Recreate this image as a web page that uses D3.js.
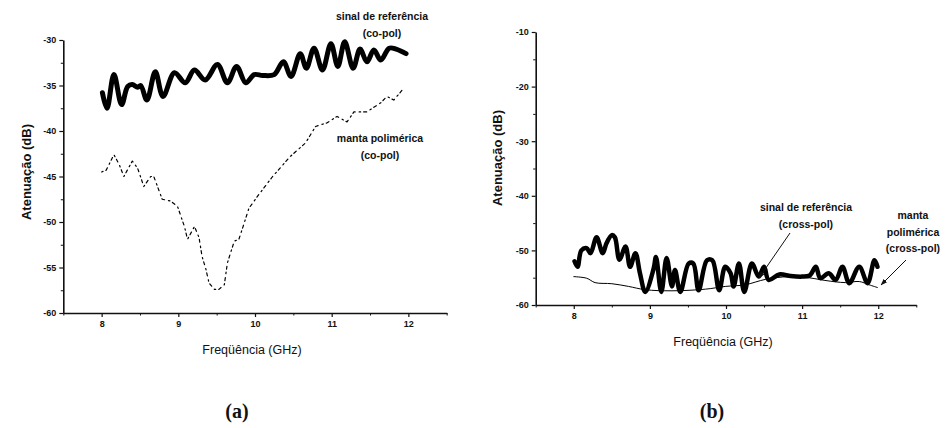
<!DOCTYPE html>
<html>
<head>
<meta charset="utf-8">
<script src="https://cdn.jsdelivr.net/npm/d3@7"></script>
<style>
  body { margin: 0; background: #fff; }
  svg { display: block; }
  text { font-family: "Liberation Sans", Arial, sans-serif; fill: #111; }
  text.letter { font-family: "Liberation Serif", "Times New Roman", serif; }
</style>
</head>
<body>
<svg id="chart" width="946" height="428"></svg>
<script>
// ---------- DATA ----------
const xTicks = [8, 9, 10, 11, 12];
const yTicksA = [-60, -55, -50, -45, -40, -35, -30];
const yTicksB = [-60, -50, -40, -30, -20, -10];

// (a) reference signal, co-pol  [GHz, dB]
const refCoX = [8.01,8.07,8.16,8.26,8.34,8.40,8.47,8.51,8.59,8.70,8.80,8.95,9.09,9.21,9.35,9.51,9.64,9.76,9.88,9.99,10.10,10.25,10.37,10.47,10.59,10.67,10.77,10.88,10.99,11.08,11.17,11.28,11.37,11.46,11.55,11.64,11.75,11.84,11.97];
const refCoY = [-35.8,-37.5,-33.8,-37.1,-35.1,-34.9,-35.2,-35.0,-36.6,-33.5,-36.2,-33.6,-34.7,-33.3,-34.4,-32.7,-34.7,-32.9,-34.7,-33.8,-33.9,-33.8,-32.4,-34.0,-31.5,-33.1,-30.9,-33.3,-30.4,-32.9,-30.2,-33.1,-31.0,-32.4,-31.1,-32.2,-30.9,-31.0,-31.5];

// (a) polymeric blanket, co-pol
const mantaCoX = [8.00,8.06,8.16,8.23,8.29,8.40,8.47,8.55,8.64,8.68,8.79,8.90,8.99,9.08,9.12,9.21,9.27,9.31,9.36,9.40,9.47,9.53,9.60,9.64,9.73,9.79,9.86,9.92,10.03,10.23,10.46,10.66,10.79,10.94,11.07,11.20,11.29,11.46,11.64,11.72,11.81,11.94];
const mantaCoY = [-44.5,-44.3,-42.6,-43.7,-45.0,-43.3,-44.1,-46.1,-45.0,-45.0,-47.5,-47.7,-48.3,-50.5,-51.9,-50.5,-51.7,-53.8,-55.2,-56.7,-57.4,-57.4,-56.9,-54.5,-52.1,-51.9,-50.1,-48.5,-47.2,-45.0,-42.8,-41.3,-39.5,-39.1,-38.4,-39.0,-37.9,-37.9,-36.9,-36.2,-36.6,-35.3];

// (b) reference signal, cross-pol
const refCrX = [8.01,8.05,8.10,8.17,8.22,8.30,8.38,8.43,8.50,8.54,8.60,8.68,8.74,8.81,8.87,8.94,9.05,9.08,9.15,9.22,9.29,9.33,9.40,9.51,9.57,9.64,9.75,9.82,9.91,9.99,10.06,10.10,10.17,10.24,10.34,10.43,10.50,10.56,10.70,10.85,11.00,11.10,11.18,11.24,11.35,11.44,11.53,11.62,11.75,11.86,11.95,11.99];
const refCrY = [-52.0,-53.0,-50.0,-49.6,-50.5,-47.6,-50.5,-48.7,-47.2,-47.6,-51.7,-49.3,-53.0,-50.5,-54.2,-57.6,-53.3,-51.2,-57.6,-51.4,-56.6,-53.6,-57.6,-52.4,-52.4,-57.3,-51.8,-51.8,-57.3,-53.0,-54.2,-56.6,-52.4,-57.6,-52.4,-54.8,-53.0,-55.4,-54.4,-54.7,-54.8,-54.6,-53.0,-55.1,-54.2,-55.4,-53.0,-56.0,-53.0,-56.0,-51.8,-53.0];

// (b) polymeric blanket, cross-pol
const mantaCrX = [8.00,8.17,8.28,8.50,8.72,8.94,9.29,9.73,9.99,10.25,10.52,10.82,11.04,11.30,11.57,11.75,11.88,11.99];
const mantaCrY = [-54.8,-55.1,-55.9,-56.1,-56.6,-57.2,-57.4,-57.1,-56.6,-56.3,-55.3,-54.8,-54.9,-55.5,-55.9,-55.7,-56.3,-56.8];

// ---------- DRAW ----------
const svg = d3.select("#chart");
const zip = (xs, ys) => xs.map((x, i) => [x, ys[i]]);

function panel(cfg) {
  const x = d3.scaleLinear().domain([7.5, 12.5]).range([cfg.x0, cfg.x1]);
  const y = d3.scaleLinear().domain(cfg.yDomain).range([cfg.y0, cfg.y1]);
  const g = svg.append("g");

  // minor ticks
  const minorX = d3.range(7.5, 12.51, 0.5).filter(v => !xTicks.includes(v));
  g.append("g").attr("transform", `translate(0,${cfg.y0})`)
    .call(d3.axisBottom(x).tickValues(minorX).tickSize(2.5).tickFormat(""))
    .call(a => a.select(".domain").remove());
  const minorY = d3.range(cfg.yDomain[0], cfg.yDomain[1] + 0.01, cfg.yStep / 2).filter(v => !cfg.yTicks.includes(v));
  g.append("g").attr("transform", `translate(${cfg.x0},0)`)
    .call(d3.axisLeft(y).tickValues(minorY).tickSize(2.5).tickFormat(""))
    .call(a => a.select(".domain").remove());

  const xa = g.append("g").attr("transform", `translate(0,${cfg.y0})`)
    .call(d3.axisBottom(x).tickValues(xTicks).tickSize(4).tickPadding(4).tickSizeOuter(0).tickFormat(d => String(d)));
  const ya = g.append("g").attr("transform", `translate(${cfg.x0},0)`)
    .call(d3.axisLeft(y).tickValues(cfg.yTicks).tickSize(4).tickPadding(3).tickSizeOuter(0).tickFormat(d => String(d)));
  [xa, ya].forEach(a => {
    a.select(".domain").attr("stroke", "#111").attr("stroke-width", 1.6);
    a.selectAll(".tick line").attr("stroke", "#111").attr("stroke-width", 1.2);
    a.selectAll("text").attr("font-size", 9).attr("font-weight", "bold").attr("fill", "#111");
  });
  g.selectAll(".tick line").attr("stroke", "#111");

  // axis titles
  g.append("text").attr("x", (cfg.x0 + cfg.x1) / 2 - 3).attr("y", cfg.y0 + 41)
    .attr("text-anchor", "middle").attr("font-size", 12.5).text("Freqüência (GHz)");
  g.append("text").attr("transform", `translate(${cfg.yLabelX},${cfg.yLabelY}) rotate(-90)`)
    .attr("text-anchor", "middle").attr("font-size", 13).attr("font-weight", "bold").text("Atenuação (dB)");

  return { g, x, y };
}

// Panel (a)
const A = panel({ x0: 63.3, x1: 446.7, y0: 313, y1: 40, yDomain: [-60, -30], yTicks: yTicksA, yStep: 5, yLabelX: 31, yLabelY: 172 });
// Panel (b)
const B = panel({ x0: 535.7, x1: 916.3, y0: 305, y1: 32, yDomain: [-60, -10], yTicks: yTicksB, yStep: 10, yLabelX: 502, yLabelY: 158 });

function drawLine(P, data, width, curve, dash) {
  const line = d3.line().x(d => P.x(d[0])).y(d => P.y(d[1])).curve(curve);
  const p = P.g.append("path").datum(data).attr("d", line)
    .attr("fill", "none").attr("stroke", "#000").attr("stroke-width", width)
    .attr("stroke-linejoin", "round").attr("stroke-linecap", "round");
  if (dash) p.attr("stroke-dasharray", dash);
  return p;
}

drawLine(A, zip(refCoX, refCoY), 5, d3.curveCatmullRom.alpha(0.5));
drawLine(A, zip(mantaCoX, mantaCoY), 1.2, d3.curveLinear, "1.5,3,3,4");
drawLine(B, zip(mantaCrX, mantaCrY), 1, d3.curveCatmullRom.alpha(0.5));
drawLine(B, zip(refCrX, refCrY), 4.5, d3.curveCatmullRom.alpha(0.5));

// annotations
function label(lines, cx, cy, size, step) {
  const t = svg.append("text").attr("text-anchor", "middle").attr("font-size", size).attr("font-weight", "bold");
  lines.forEach((s, i) => t.append("tspan").attr("x", cx).attr("y", cy + i * step).text(s));
}
label(["sinal de referência", "(co-pol)"], 382, 20, 10.5, 17);
label(["manta polimérica", "(co-pol)"], 380, 142, 10.5, 17);
label(["sinal de referência", "(cross-pol)"], 806, 211, 10.5, 17);
label(["manta", "polimérica", "(cross-pol)"], 913, 219, 10.5, 16.5);

svg.append("defs").append("marker").attr("id", "ah").attr("viewBox", "0 0 10 10")
  .attr("refX", 9).attr("refY", 5).attr("markerWidth", 7).attr("markerHeight", 7).attr("orient", "auto")
  .append("path").attr("d", "M0,1.5 L10,5 L0,8.5 Z").attr("fill", "#111");
[[790, 233, 759, 278], [906, 260, 881, 285]].forEach(a => {
  svg.append("line").attr("x1", a[0]).attr("y1", a[1]).attr("x2", a[2]).attr("y2", a[3])
    .attr("stroke", "#111").attr("stroke-width", 1).attr("marker-end", "url(#ah)");
});

// panel letters
svg.append("text").attr("class", "letter").attr("x", 237).attr("y", 418).attr("text-anchor", "middle")
  .attr("font-size", 20).attr("font-weight", "bold").text("(a)");
svg.append("text").attr("class", "letter").attr("x", 712).attr("y", 418).attr("text-anchor", "middle")
  .attr("font-size", 20).attr("font-weight", "bold").text("(b)");
</script>
</body>
</html>
